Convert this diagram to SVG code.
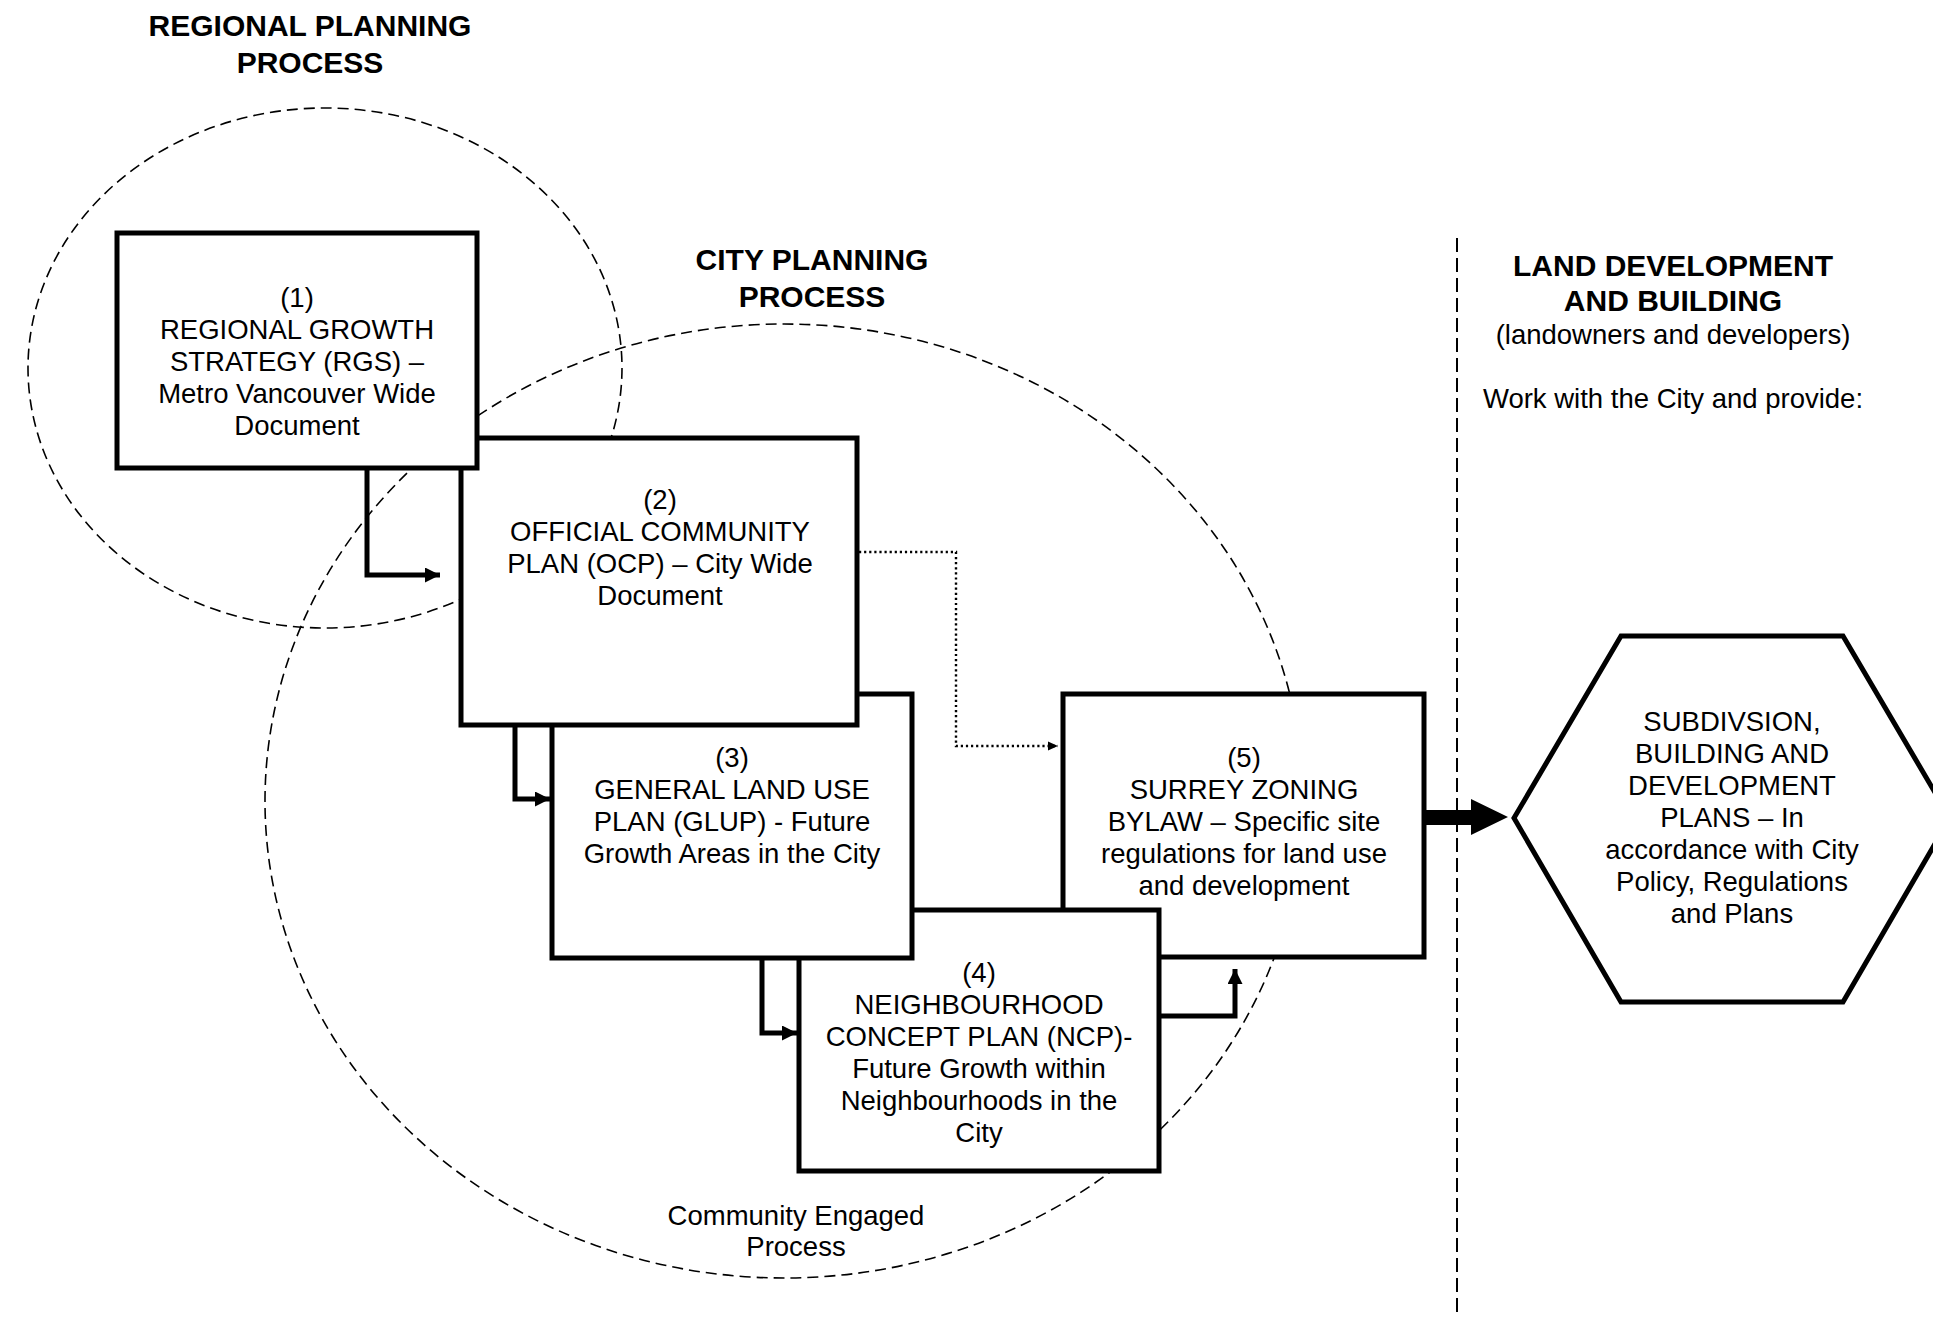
<svg xmlns="http://www.w3.org/2000/svg" width="1933" height="1317" viewBox="0 0 1933 1317">
<style>
  text { font-family: "Liberation Sans", Arial, sans-serif; fill: #000; text-anchor: middle; }
  .t { font-size: 27.5px; }
  .h { font-size: 30px; font-weight: bold; }
  .box { fill: #fff; stroke: #000; stroke-width: 5; }
  .circ { fill: none; stroke: #000; stroke-width: 1.6; stroke-dasharray: 11 6; }
  .conn { fill: none; stroke: #000; stroke-width: 5; }
  .dot { fill: none; stroke: #000; stroke-width: 2.4; stroke-dasharray: 2.2 2.9; }
</style>
<defs>
  <marker id="ah" markerWidth="15" markerHeight="15" refX="15" refY="7.5" orient="auto" markerUnits="userSpaceOnUse">
    <path d="M0,0 L15,7.5 L0,15 Z" fill="#000"/>
  </marker>
  <marker id="ahs" markerWidth="10" markerHeight="10" refX="10" refY="5" orient="auto" markerUnits="userSpaceOnUse">
    <path d="M0,0.5 L10,5 L0,9.5 Z" fill="#000"/>
  </marker>
</defs>
<rect width="1933" height="1317" fill="#fff"/>

<g id="regions">
  <ellipse class="circ" cx="325" cy="368" rx="297" ry="260"/>
  <ellipse class="circ" cx="784" cy="801" rx="519" ry="477"/>
  <line x1="1457" y1="238" x2="1457" y2="1317" stroke="#000" stroke-width="2" stroke-dasharray="14 6"/>
</g>

<g id="titles">
  <text class="h" x="310"><tspan x="310" y="36">REGIONAL PLANNING</tspan><tspan x="310" y="73">PROCESS</tspan></text>
  <text class="h" x="812"><tspan x="812" y="270">CITY PLANNING</tspan><tspan x="812" y="307">PROCESS</tspan></text>
  <text class="h" x="1673"><tspan x="1673" y="276">LAND DEVELOPMENT</tspan><tspan x="1673" y="311">AND BUILDING</tspan></text>
  <text class="t" x="1673" y="344">(landowners and developers)</text>
  <text class="t" x="1673" y="408">Work with the City and provide:</text>
  <text class="t" x="796"><tspan x="796" y="1225">Community Engaged</tspan><tspan x="796" y="1256">Process</tspan></text>
</g>

<g id="node5">
  <rect class="box" x="1063" y="694" width="361" height="263"/>
  <text class="t"><tspan x="1244" y="767">(5)</tspan><tspan x="1244" y="799">SURREY ZONING</tspan><tspan x="1244" y="831">BYLAW – Specific site</tspan><tspan x="1244" y="863">regulations for land use</tspan><tspan x="1244" y="895">and development</tspan></text>
</g>
<g id="node4">
  <rect class="box" x="799" y="910" width="360" height="261"/>
  <text class="t"><tspan x="979" y="982">(4)</tspan><tspan x="979" y="1014">NEIGHBOURHOOD</tspan><tspan x="979" y="1046">CONCEPT PLAN (NCP)-</tspan><tspan x="979" y="1078">Future Growth within</tspan><tspan x="979" y="1110">Neighbourhoods in the</tspan><tspan x="979" y="1142">City</tspan></text>
</g>
<g id="node3">
  <rect class="box" x="552" y="694" width="360" height="264"/>
  <text class="t"><tspan x="732" y="767">(3)</tspan><tspan x="732" y="799">GENERAL LAND USE</tspan><tspan x="732" y="831">PLAN (GLUP) - Future</tspan><tspan x="732" y="863">Growth Areas in the City</tspan></text>
</g>
<g id="node2">
  <rect class="box" x="461" y="438" width="396" height="287"/>
  <text class="t"><tspan x="660" y="509">(2)</tspan><tspan x="660" y="541">OFFICIAL COMMUNITY</tspan><tspan x="660" y="573">PLAN (OCP) – City Wide</tspan><tspan x="660" y="605">Document</tspan></text>
</g>
<g id="node1">
  <rect class="box" x="117" y="233" width="360" height="235"/>
  <text class="t"><tspan x="297" y="307">(1)</tspan><tspan x="297" y="339">REGIONAL GROWTH</tspan><tspan x="297" y="371">STRATEGY (RGS) –</tspan><tspan x="297" y="403">Metro Vancouver Wide</tspan><tspan x="297" y="435">Document</tspan></text>
</g>
<g id="node6">
  <polygon class="box" points="1514,818 1621,636 1843,636 1950,818 1843,1002 1621,1002"/>
  <text class="t"><tspan x="1732" y="731">SUBDIVSION,</tspan><tspan x="1732" y="763">BUILDING AND</tspan><tspan x="1732" y="795">DEVELOPMENT</tspan><tspan x="1732" y="827">PLANS – In</tspan><tspan x="1732" y="859">accordance with City</tspan><tspan x="1732" y="891">Policy, Regulations</tspan><tspan x="1732" y="923">and Plans</tspan></text>
</g>

<g id="connectors">
  <path class="conn" d="M367,470 V575 H440" marker-end="url(#ah)"/>
  <path class="conn" d="M515,727 V799 H550" marker-end="url(#ah)"/>
  <path class="conn" d="M762,960 V1033 H797" marker-end="url(#ah)"/>
  <path class="conn" d="M1161,1016 H1235 V969" marker-end="url(#ah)"/>
  <path class="dot" d="M859,552 H956 V746 H1058" marker-end="url(#ahs)"/>
  <path d="M1426,810 H1471 V799 L1508,817 L1471,835 V825 H1426 Z" fill="#000"/>
</g>
</svg>
